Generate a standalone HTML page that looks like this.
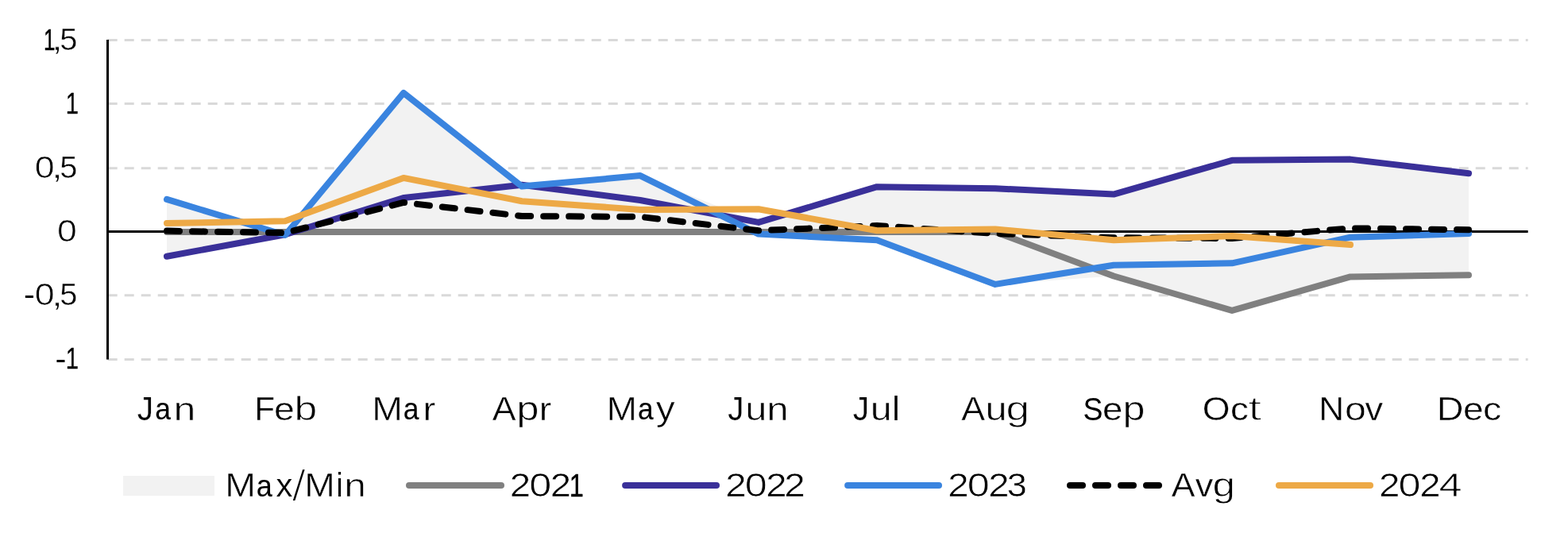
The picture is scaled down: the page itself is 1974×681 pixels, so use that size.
<!DOCTYPE html>
<html lang="en">
<head>
<meta charset="utf-8">
<title>Chart</title>
<style>
html,body{margin:0;padding:0;background:#fff;}
body{width:1974px;height:681px;overflow:hidden;}
svg{display:block;}
text{font-family:"Liberation Sans",sans-serif;fill:#000;stroke-linejoin:round;}
.grid line{stroke:#d9d9d9;stroke-width:3;stroke-dasharray:12 9;}
.ser polyline{fill:none;stroke-width:8;stroke-linecap:round;stroke-linejoin:round;}
.leg line{stroke-width:8;stroke-linecap:round;}
</style>
</head>
<body>
<svg width="1974" height="681" viewBox="0 0 1974 681">
<rect width="1974" height="681" fill="#fff"/>
<g class="grid">
<line x1="135.7" y1="50.50" x2="1923.6" y2="50.50"/>
<line x1="135.7" y1="130.60" x2="1923.6" y2="130.60"/>
<line x1="135.7" y1="211.65" x2="1923.6" y2="211.65"/>
<line x1="135.7" y1="371.70" x2="1923.6" y2="371.70"/>
<line x1="135.7" y1="452.40" x2="1923.6" y2="452.40"/>
</g>
<polygon points="210.0,250.9 359.0,292.0 508.0,117.0 657.0,232.8 806.0,221.1 955.0,279.9 1104.0,235.2 1253.0,237.2 1402.0,244.6 1551.0,201.8 1700.0,200.6 1849.0,218.2 1849.0,346.3 1700.0,348.4 1551.0,390.9 1402.0,347.5 1253.0,357.9 1104.0,302.2 955.0,294.6 806.0,292.0 657.0,292.0 508.0,292.0 359.0,296.0 210.0,322.7" fill="#f2f2f2"/>
<line x1="135.5" y1="291.5" x2="1923.6" y2="291.5" stroke="#000" stroke-width="3"/>
<line x1="135.5" y1="50" x2="135.5" y2="452.6" stroke="#000" stroke-width="3"/>
<g class="ser">
<polyline points="210.0,292.0 359.0,292.0 508.0,292.0 657.0,292.0 806.0,292.0 955.0,292.0 1104.0,292.0 1253.0,292.0 1402.0,347.5 1551.0,390.9 1700.0,348.4 1849.0,346.3" stroke="#808080"/>
<polyline points="210.0,322.7 359.0,295.2 508.0,249.1 657.0,232.8 806.0,252.0 955.0,279.9 1104.0,235.2 1253.0,237.2 1402.0,244.6 1551.0,201.8 1700.0,200.6 1849.0,218.2" stroke="#3A3099"/>
<polyline points="210.0,250.9 359.0,296.0 508.0,117.0 657.0,234.6 806.0,221.1 955.0,294.6 1104.0,302.2 1253.0,357.9 1402.0,333.7 1551.0,331.3 1700.0,298.7 1849.0,294.1" stroke="#3A84DF"/>
<polyline points="210.0,290.6 359.0,293.2 508.0,254.9 657.0,272.0 806.0,272.9 955.0,290.3 1104.0,284.0 1253.0,294.0 1402.0,299.2 1551.0,300.0 1700.0,287.3 1849.0,289.3" stroke="#000000" stroke-dasharray="16 16"/>
<polyline points="210.0,281.0 359.0,278.3 508.0,224.0 657.0,253.2 806.0,263.9 955.0,263.2 1104.0,290.2 1253.0,288.5 1402.0,302.3 1551.0,297.0 1700.0,308.1" stroke="#EDA946"/>
</g>
<g class="labels">
<text><tspan x="54.91" y="62.67" font-size="37.05" textLength="14.43" lengthAdjust="spacingAndGlyphs" stroke="#000" stroke-width="0.56">1</tspan><tspan x="65.20" y="63.25" font-size="38.74" textLength="13.45" lengthAdjust="spacingAndGlyphs" stroke="#fff" stroke-width="0.60">,</tspan><tspan x="75.20" y="62.93" font-size="38.14" textLength="22.18" lengthAdjust="spacingAndGlyphs" stroke="#fff" stroke-width="0.41">5</tspan></text>
<text><tspan x="82.68" y="143.12" font-size="37.40" textLength="16.22" lengthAdjust="spacingAndGlyphs" stroke="#000" stroke-width="0.32">1</tspan></text>
<text><tspan x="43.66" y="223.73" font-size="38.17" textLength="24.93" lengthAdjust="spacingAndGlyphs" stroke="#fff" stroke-width="0.68">0</tspan><tspan x="65.20" y="223.92" font-size="38.74" textLength="13.45" lengthAdjust="spacingAndGlyphs" stroke="#fff" stroke-width="0.60">,</tspan><tspan x="75.20" y="223.60" font-size="38.14" textLength="22.18" lengthAdjust="spacingAndGlyphs" stroke="#fff" stroke-width="0.41">5</tspan></text>
<text><tspan x="72.13" y="304.06" font-size="38.15" textLength="24.79" lengthAdjust="spacingAndGlyphs" stroke="#fff" stroke-width="0.66">0</tspan></text>
<text><tspan x="29.93" y="384.30" font-size="37.90" textLength="13.88" lengthAdjust="spacingAndGlyphs" stroke="#fff" stroke-width="0.03">-</tspan><tspan x="43.66" y="384.40" font-size="38.17" textLength="24.93" lengthAdjust="spacingAndGlyphs" stroke="#fff" stroke-width="0.68">0</tspan><tspan x="65.20" y="384.59" font-size="38.74" textLength="13.45" lengthAdjust="spacingAndGlyphs" stroke="#fff" stroke-width="0.60">,</tspan><tspan x="75.20" y="384.27" font-size="38.14" textLength="22.18" lengthAdjust="spacingAndGlyphs" stroke="#fff" stroke-width="0.41">5</tspan></text>
<text><tspan x="69.53" y="464.63" font-size="37.90" textLength="13.91" lengthAdjust="spacingAndGlyphs" stroke="#fff" stroke-width="0.03">-</tspan><tspan x="82.68" y="464.46" font-size="37.40" textLength="16.22" lengthAdjust="spacingAndGlyphs" stroke="#000" stroke-width="0.32">1</tspan></text>
<text><tspan x="172.86" y="528.59" font-size="41.77" textLength="20.36" lengthAdjust="spacingAndGlyphs" stroke="#fff" stroke-width="0.20">J</tspan><tspan x="195.22" y="528.44" font-size="39.51" textLength="19.70" lengthAdjust="spacingAndGlyphs" stroke="#000" stroke-width="0.16">a</tspan><tspan x="218.52" y="529.10" font-size="41.53" textLength="27.88" lengthAdjust="spacingAndGlyphs" stroke="#fff" stroke-width="0.70">n</tspan></text>
<text><tspan x="320.45" y="528.88" font-size="42.24" textLength="25.45" lengthAdjust="spacingAndGlyphs" stroke="#fff" stroke-width="0.26">F</tspan><tspan x="345.04" y="528.74" font-size="40.66" textLength="25.87" lengthAdjust="spacingAndGlyphs" stroke="#fff" stroke-width="0.47">e</tspan><tspan x="370.47" y="528.89" font-size="42.56" textLength="28.70" lengthAdjust="spacingAndGlyphs" stroke="#fff" stroke-width="0.81">b</tspan></text>
<text><tspan x="468.23" y="529.01" font-size="42.63" textLength="38.64" lengthAdjust="spacingAndGlyphs" stroke="#fff" stroke-width="0.53">M</tspan><tspan x="507.67" y="528.44" font-size="39.51" textLength="19.70" lengthAdjust="spacingAndGlyphs" stroke="#000" stroke-width="0.16">a</tspan><tspan x="532.41" y="529.01" font-size="41.21" textLength="15.68" lengthAdjust="spacingAndGlyphs" stroke="#fff" stroke-width="0.52">r</tspan></text>
<text><tspan x="619.70" y="528.97" font-size="42.49" textLength="29.81" lengthAdjust="spacingAndGlyphs" stroke="#fff" stroke-width="0.43">A</tspan><tspan x="650.35" y="529.12" font-size="41.65" textLength="28.31" lengthAdjust="spacingAndGlyphs" stroke="#fff" stroke-width="0.74">p</tspan><tspan x="678.71" y="528.98" font-size="41.10" textLength="15.34" lengthAdjust="spacingAndGlyphs" stroke="#fff" stroke-width="0.46">r</tspan></text>
<text><tspan x="763.56" y="529.01" font-size="42.61" textLength="38.44" lengthAdjust="spacingAndGlyphs" stroke="#fff" stroke-width="0.52">M</tspan><tspan x="802.88" y="528.43" font-size="39.49" textLength="19.64" lengthAdjust="spacingAndGlyphs" stroke="#000" stroke-width="0.16">a</tspan><tspan x="825.74" y="529.04" font-size="41.80" textLength="23.94" lengthAdjust="spacingAndGlyphs" stroke="#fff" stroke-width="0.58">y</tspan></text>
<text><tspan x="916.28" y="528.58" font-size="41.75" textLength="20.21" lengthAdjust="spacingAndGlyphs" stroke="#fff" stroke-width="0.18">J</tspan><tspan x="938.17" y="528.81" font-size="41.38" textLength="27.12" lengthAdjust="spacingAndGlyphs" stroke="#fff" stroke-width="0.62">u</tspan><tspan x="965.30" y="529.07" font-size="41.44" textLength="27.43" lengthAdjust="spacingAndGlyphs" stroke="#fff" stroke-width="0.65">n</tspan></text>
<text><tspan x="1073.71" y="528.59" font-size="41.79" textLength="20.43" lengthAdjust="spacingAndGlyphs" stroke="#fff" stroke-width="0.21">J</tspan><tspan x="1095.66" y="528.79" font-size="41.34" textLength="26.90" lengthAdjust="spacingAndGlyphs" stroke="#fff" stroke-width="0.60">u</tspan><tspan x="1123.53" y="528.75" font-size="41.82" textLength="8.97" lengthAdjust="spacingAndGlyphs" stroke="none">l</tspan></text>
<text><tspan x="1210.29" y="528.97" font-size="42.50" textLength="29.86" lengthAdjust="spacingAndGlyphs" stroke="#fff" stroke-width="0.44">A</tspan><tspan x="1240.57" y="528.81" font-size="41.38" textLength="27.12" lengthAdjust="spacingAndGlyphs" stroke="#fff" stroke-width="0.62">u</tspan><tspan x="1266.43" y="529.19" font-size="41.97" textLength="29.59" lengthAdjust="spacingAndGlyphs" stroke="#fff" stroke-width="0.87">g</tspan></text>
<text><tspan x="1363.40" y="528.50" font-size="41.10" textLength="24.97" lengthAdjust="spacingAndGlyphs" stroke="none">S</tspan><tspan x="1388.01" y="528.71" font-size="40.56" textLength="25.33" lengthAdjust="spacingAndGlyphs" stroke="#fff" stroke-width="0.42">e</tspan><tspan x="1413.50" y="529.11" font-size="41.60" textLength="28.03" lengthAdjust="spacingAndGlyphs" stroke="#fff" stroke-width="0.71">p</tspan></text>
<text><tspan x="1513.88" y="528.70" font-size="41.68" textLength="34.76" lengthAdjust="spacingAndGlyphs" stroke="#fff" stroke-width="0.41">O</tspan><tspan x="1549.05" y="528.72" font-size="40.57" textLength="22.82" lengthAdjust="spacingAndGlyphs" stroke="#fff" stroke-width="0.42">c</tspan><tspan x="1571.10" y="529.22" font-size="42.56" textLength="17.41" lengthAdjust="spacingAndGlyphs" stroke="#fff" stroke-width="1.30">t</tspan></text>
<text><tspan x="1660.17" y="528.95" font-size="42.45" textLength="31.94" lengthAdjust="spacingAndGlyphs" stroke="#fff" stroke-width="0.41">N</tspan><tspan x="1693.09" y="528.79" font-size="40.84" textLength="26.82" lengthAdjust="spacingAndGlyphs" stroke="#fff" stroke-width="0.57">o</tspan><tspan x="1718.43" y="528.96" font-size="41.51" textLength="22.59" lengthAdjust="spacingAndGlyphs" stroke="#fff" stroke-width="0.43">v</tspan></text>
<text><tspan x="1808.89" y="529.03" font-size="42.66" textLength="33.78" lengthAdjust="spacingAndGlyphs" stroke="#fff" stroke-width="0.55">D</tspan><tspan x="1842.07" y="528.73" font-size="40.61" textLength="25.60" lengthAdjust="spacingAndGlyphs" stroke="#fff" stroke-width="0.45">e</tspan><tspan x="1866.98" y="528.74" font-size="40.66" textLength="23.28" lengthAdjust="spacingAndGlyphs" stroke="#fff" stroke-width="0.48">c</tspan></text>
<text><tspan x="283.17" y="625.32" font-size="42.64" textLength="38.71" lengthAdjust="spacingAndGlyphs" stroke="#fff" stroke-width="0.53">M</tspan><tspan x="322.63" y="624.75" font-size="39.57" textLength="20.06" lengthAdjust="spacingAndGlyphs" stroke="#000" stroke-width="0.12">a</tspan><tspan x="347.52" y="625.17" font-size="41.13" textLength="20.85" lengthAdjust="spacingAndGlyphs" stroke="#fff" stroke-width="0.23">x</tspan><tspan x="367.25" y="629.51" font-size="55.56" textLength="17.90" lengthAdjust="spacingAndGlyphs" stroke="#fff" stroke-width="2.00">/</tspan><tspan x="383.30" y="625.31" font-size="42.62" textLength="38.50" lengthAdjust="spacingAndGlyphs" stroke="#fff" stroke-width="0.52">M</tspan><tspan x="423.56" y="625.05" font-size="41.82" textLength="8.09" lengthAdjust="spacingAndGlyphs" stroke="none">i</tspan><tspan x="433.16" y="625.39" font-size="41.49" textLength="27.65" lengthAdjust="spacingAndGlyphs" stroke="#fff" stroke-width="0.67">n</tspan></text>
<text><tspan x="641.72" y="625.34" font-size="42.59" textLength="26.41" lengthAdjust="spacingAndGlyphs" stroke="#fff" stroke-width="0.59">2</tspan><tspan x="666.16" y="625.15" font-size="42.43" textLength="28.02" lengthAdjust="spacingAndGlyphs" stroke="#fff" stroke-width="0.74">0</tspan><tspan x="692.84" y="625.34" font-size="42.57" textLength="26.28" lengthAdjust="spacingAndGlyphs" stroke="#fff" stroke-width="0.57">2</tspan><tspan x="716.63" y="624.83" font-size="41.52" textLength="18.01" lengthAdjust="spacingAndGlyphs" stroke="#000" stroke-width="0.44">1</tspan></text>
<text><tspan x="913.22" y="625.34" font-size="42.59" textLength="26.41" lengthAdjust="spacingAndGlyphs" stroke="#fff" stroke-width="0.59">2</tspan><tspan x="937.66" y="625.15" font-size="42.43" textLength="28.02" lengthAdjust="spacingAndGlyphs" stroke="#fff" stroke-width="0.74">0</tspan><tspan x="964.34" y="625.34" font-size="42.57" textLength="26.28" lengthAdjust="spacingAndGlyphs" stroke="#fff" stroke-width="0.57">2</tspan><tspan x="987.31" y="625.35" font-size="42.60" textLength="26.48" lengthAdjust="spacingAndGlyphs" stroke="#fff" stroke-width="0.59">2</tspan></text>
<text><tspan x="1193.22" y="625.34" font-size="42.59" textLength="26.41" lengthAdjust="spacingAndGlyphs" stroke="#fff" stroke-width="0.59">2</tspan><tspan x="1217.66" y="625.15" font-size="42.43" textLength="28.02" lengthAdjust="spacingAndGlyphs" stroke="#fff" stroke-width="0.74">0</tspan><tspan x="1244.34" y="625.34" font-size="42.57" textLength="26.28" lengthAdjust="spacingAndGlyphs" stroke="#fff" stroke-width="0.57">2</tspan><tspan x="1267.77" y="625.01" font-size="42.00" textLength="25.03" lengthAdjust="spacingAndGlyphs" stroke="#fff" stroke-width="0.44">3</tspan></text>
<text><tspan x="1474.80" y="625.26" font-size="42.48" textLength="29.70" lengthAdjust="spacingAndGlyphs" stroke="#fff" stroke-width="0.42">A</tspan><tspan x="1504.88" y="625.26" font-size="41.51" textLength="22.59" lengthAdjust="spacingAndGlyphs" stroke="#fff" stroke-width="0.43">v</tspan><tspan x="1526.55" y="625.44" font-size="41.79" textLength="28.60" lengthAdjust="spacingAndGlyphs" stroke="#fff" stroke-width="0.77">g</tspan></text>
<text><tspan x="1736.07" y="625.34" font-size="42.59" textLength="26.41" lengthAdjust="spacingAndGlyphs" stroke="#fff" stroke-width="0.59">2</tspan><tspan x="1760.51" y="625.15" font-size="42.43" textLength="28.02" lengthAdjust="spacingAndGlyphs" stroke="#fff" stroke-width="0.74">0</tspan><tspan x="1787.19" y="625.34" font-size="42.57" textLength="26.28" lengthAdjust="spacingAndGlyphs" stroke="#fff" stroke-width="0.57">2</tspan><tspan x="1811.41" y="625.49" font-size="43.42" textLength="29.11" lengthAdjust="spacingAndGlyphs" stroke="#fff" stroke-width="0.87">4</tspan></text>
</g>
<g class="leg">
<rect x="155" y="599" width="115" height="25" fill="#f2f2f2"/>
<line x1="515" y1="611.1" x2="631" y2="611.1" stroke="#808080"/>
<line x1="787.1" y1="611.1" x2="902" y2="611.1" stroke="#3A3099"/>
<line x1="1067.1" y1="611.1" x2="1182" y2="611.1" stroke="#3A84DF"/>
<line x1="1347" y1="611.1" x2="1462" y2="611.1" stroke="#000000" stroke-dasharray="16 16"/>
<line x1="1610" y1="611.1" x2="1725.05" y2="611.1" stroke="#EDA946"/>
</g>
</svg>
</body>
</html>
